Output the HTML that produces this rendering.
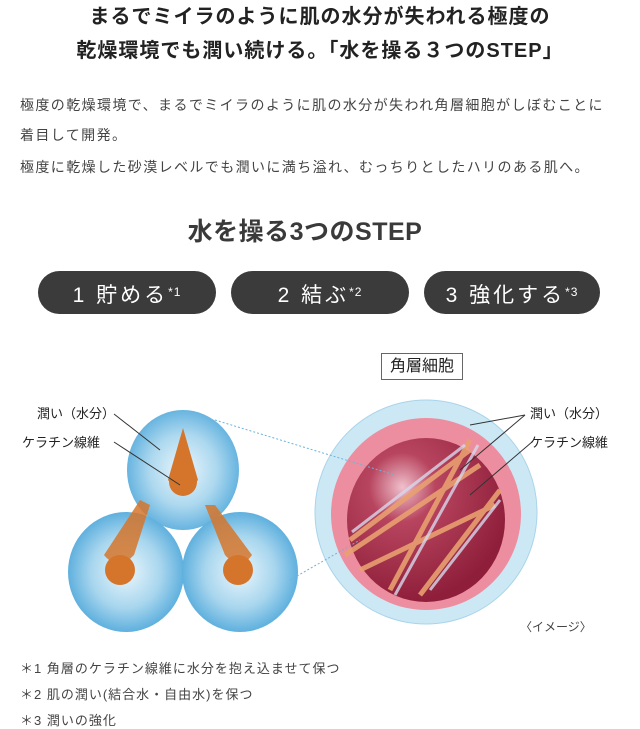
<!DOCTYPE html>
<html><head><meta charset="utf-8"><style>
body{margin:0;width:640px;height:725px;background:#fff;position:relative;overflow:hidden;font-family:"Liberation Sans","Noto Sans CJK JP",sans-serif;color:#333}
.a{position:absolute;white-space:nowrap}
.t{font-size:20px;font-weight:bold;left:0;width:640px;text-align:center;color:#222;letter-spacing:1px}
.p{font-size:14px;left:20px;color:#444;letter-spacing:1.4px}
.pill{position:absolute;top:271px;height:43px;background:#3b3b3b;border-radius:22px;color:#fff;font-size:21px;text-align:center;line-height:43px;letter-spacing:3px}
.pill sup{font-size:12px;vertical-align:6px;letter-spacing:1px}
.f{font-size:13px;left:20px;color:#444;letter-spacing:1px}
.l{font-size:13px;color:#222}
</style></head><body>
<div class="a t" style="top:0px">まるでミイラのように肌の水分が失われる極度の</div>
<div class="a t" style="top:34px">乾燥環境でも潤い続ける。「水を操る３つのSTEP」</div>
<div class="a p" style="top:95px">極度の乾燥環境で、まるでミイラのように肌の水分が失われ角層細胞がしぼむことに</div>
<div class="a p" style="top:125px">着目して開発。</div>
<div class="a p" style="top:157px">極度に乾燥した砂漠レベルでも潤いに満ち溢れ、むっちりとしたハリのある肌へ。</div>
<div class="a" style="top:212px;left:0;width:610px;text-align:center;font-size:25px;font-weight:bold;color:#3a3a3a;letter-spacing:0.5px">水を操る3つのSTEP</div>
<div class="pill" style="left:38px;width:178px">1 貯める<sup>*1</sup></div>
<div class="pill" style="left:231px;width:178px">2 結ぶ<sup>*2</sup></div>
<div class="pill" style="left:424px;width:176px">3 強化する<sup>*3</sup></div>
<div class="a" style="left:381px;top:353px;width:80px;height:25px;border:1px solid #666;font-size:16px;line-height:25px;text-align:center;color:#222">角層細胞</div>
<svg class="a" style="left:0;top:340px" width="640" height="300">
<defs>
<radialGradient id="bl" cx="50%" cy="50%" r="50%"><stop offset="0" stop-color="#eaf6fc"/><stop offset="0.6" stop-color="#a8d6ee"/><stop offset="1" stop-color="#5fb0de"/></radialGradient>
<radialGradient id="rd" cx="35%" cy="30%" r="70%"><stop offset="0" stop-color="#f0c0cc"/><stop offset="0.3" stop-color="#b8455f"/><stop offset="1" stop-color="#8e1e3a"/></radialGradient>
</defs>
<ellipse cx="126" cy="232" rx="58" ry="60" fill="url(#bl)"/>
<ellipse cx="240" cy="232" rx="58" ry="60" fill="url(#bl)"/>
<ellipse cx="183" cy="130" rx="56" ry="60" fill="url(#bl)" opacity="0.95"/>
<g fill="#d5752c">
<path d="M183 88 L198 140 Q183 158 168 140Z"/><circle cx="183" cy="142" r="14"/>
<path d="M150 165 L134 215 Q118 232 104 215 L140 160Z" opacity="0.85"/><circle cx="120" cy="230" r="15"/>
<path d="M215 165 L252 215 Q240 232 225 215 L205 165Z" opacity="0.85"/><circle cx="238" cy="230" r="15"/>
</g>
<ellipse cx="426" cy="172" rx="111" ry="112" fill="#cde8f5" stroke="#a9d4ea"/>
<ellipse cx="426" cy="174" rx="95" ry="96" fill="#ec8ea0"/>
<ellipse cx="426" cy="180" rx="79" ry="82" fill="url(#rd)"/>
<g stroke="#e9a070" stroke-width="5" opacity="0.9">
<path d="M350 200 L470 110"/><path d="M345 215 L480 125"/><path d="M390 250 L470 100"/><path d="M420 255 L500 150"/><path d="M360 230 L495 165"/>
</g>
<g stroke="#d8d8ec" stroke-width="3" opacity="0.8">
<path d="M352 192 L465 105"/><path d="M395 255 L478 105"/><path d="M430 250 L500 160"/>
</g>
<g stroke="#6cb2dc" stroke-dasharray="2 2" fill="none"><path d="M215 80 L395 135"/><path d="M290 240 L360 200"/></g>
<g stroke="#333" fill="none"><path d="M114 74 L160 110"/><path d="M114 102 L180 145"/><path d="M525 75 L470 85"/><path d="M525 75 L460 130"/><path d="M532 102 L470 155"/></g>
</svg>
<div class="a l" style="left:37px;top:403px">潤い（水分）</div>
<div class="a l" style="left:22px;top:432px">ケラチン線維</div>
<div class="a l" style="left:530px;top:403px">潤い（水分）</div>
<div class="a l" style="left:530px;top:432px">ケラチン線維</div>
<div class="a" style="left:520px;top:618px;font-size:12px;color:#444">〈イメージ〉</div>
<div class="a f" style="top:658px">＊1 角層のケラチン線維に水分を抱え込ませて保つ</div>
<div class="a f" style="top:684px">＊2 肌の潤い(結合水・自由水)を保つ</div>
<div class="a f" style="top:710px">＊3 潤いの強化</div>
</body></html>
